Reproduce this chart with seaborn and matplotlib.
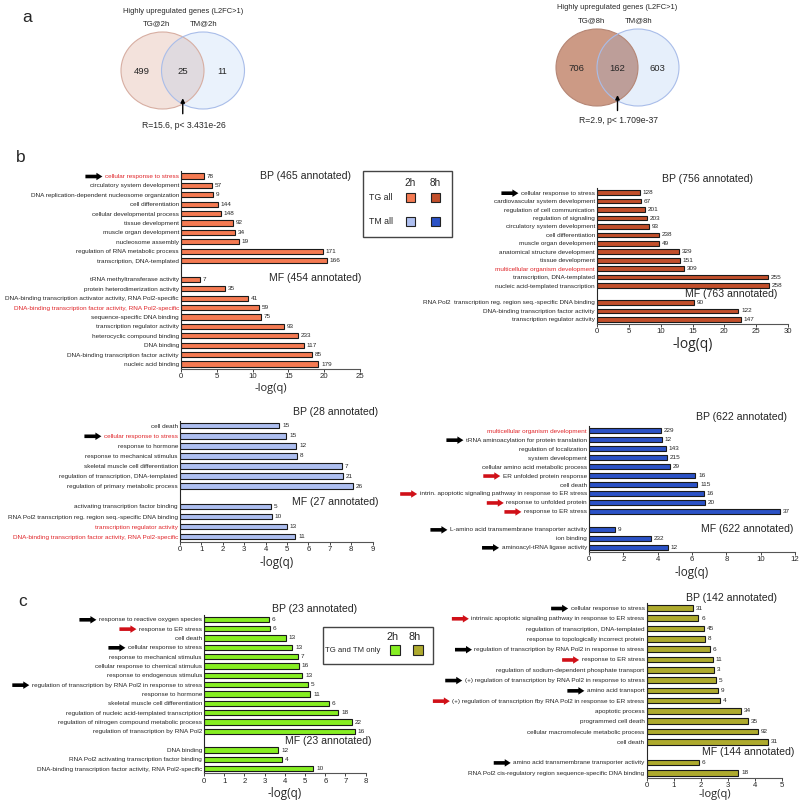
import numpy as np
import pandas as pd
import matplotlib
matplotlib.use("Agg")
import matplotlib.pyplot as plt
from matplotlib.patches import Ellipse, Rectangle, FancyArrow
import seaborn as sns

W, H = 800, 802

# ---------------- data ----------------
venn2h_counts = [499, 25, 11]
venn2h_sets = ["TG@2h", "TM@2h"]
venn2h_stat = "R=15.6, p< 3.431e-26"
venn8h_counts = [706, 162, 603]
venn8h_sets = ["TG@8h", "TM@8h"]
venn8h_stat = "R=2.9, p< 1.709e-37"

# TG all, 2h
tg2h_bp_terms = ["cellular response to stress", "circulatory system development",
                 "DNA replication-dependent nucleosome organization", "cell differentiation",
                 "cellular developmental process", "tissue development", "muscle organ development",
                 "nucleosome assembly", "regulation of RNA metabolic process", "transcription, DNA-templated"]
tg2h_bp_q = [3.2, 4.3, 4.5, 5.1, 5.6, 7.2, 7.5, 8.1, 19.8, 20.4]
tg2h_bp_n = [78, 57, 9, 144, 148, 92, 34, 19, 171, 166]
tg2h_mf_terms = ["tRNA methyltransferase activity", "protein heterodimerization activity",
                 "DNA-binding transcription activator activity, RNA Pol2-specific",
                 "DNA-binding transcription factor activity, RNA Pol2-specific",
                 "sequence-specific DNA binding", "transcription regulator activity",
                 "heterocyclic compound binding", "DNA binding",
                 "DNA-binding transcription factor activity", "nucleic acid binding"]
tg2h_mf_q = [2.7, 6.1, 9.3, 10.9, 11.2, 14.4, 16.4, 17.2, 18.3, 19.2]
tg2h_mf_n = [7, 35, 41, 59, 75, 93, 233, 117, 85, 179]

# TG all, 8h
tg8h_bp_terms = ["cellular response to stress", "cardiovascular system development",
                 "regulation of cell communication", "regulation of signaling",
                 "circulatory system development", "cell differentiation", "muscle organ development",
                 "anatomical structure development", "tissue development",
                 "multicellular organism development", "transcription, DNA-templated",
                 "nucleic acid-templated transcription"]
tg8h_bp_q = [6.7, 6.85, 7.6, 7.9, 8.2, 9.7, 9.8, 12.9, 13.0, 13.6, 26.8, 26.95]
tg8h_bp_n = [128, 67, 201, 203, 93, 238, 49, 329, 151, 309, 255, 258]
tg8h_mf_terms = ["RNA Pol2  transcription reg. region seq.-specific DNA binding",
                 "DNA-binding transcription factor activity", "transcription regulator activity"]
tg8h_mf_q = [15.3, 22.2, 22.6]
tg8h_mf_n = [90, 122, 147]

# TM all, 2h
tm2h_bp_terms = ["cell death", "cellular response to stress", "response to hormone",
                 "response to mechanical stimulus", "skeletal muscle cell differentiation",
                 "regulation of transcription, DNA-templated", "regulation of primary metabolic process"]
tm2h_bp_q = [4.64, 4.97, 5.44, 5.47, 7.58, 7.63, 8.08]
tm2h_bp_n = [15, 15, 12, 8, 7, 21, 26]
tm2h_mf_terms = ["activating transcription factor binding",
                 "RNA Pol2 transcription reg. region seq.-specific DNA binding",
                 "transcription regulator activity",
                 "DNA-binding transcription factor activity, RNA Pol2-specific"]
tm2h_mf_q = [4.24, 4.28, 4.98, 5.39]
tm2h_mf_n = [5, 10, 13, 11]

# TM all, 8h
tm8h_bp_terms = ["multicellular organism development", "tRNA aminoacylation for protein translation",
                 "regulation of localization", "system development",
                 "cellular amino acid metabolic process", "ER unfolded protein response", "cell death",
                 "intrin. apoptotic signaling pathway in response to ER stress",
                 "response to unfolded protein", "response to ER stress"]
tm8h_bp_q = [4.17, 4.23, 4.48, 4.56, 4.74, 6.19, 6.31, 6.68, 6.77, 11.1]
tm8h_bp_n = [229, 12, 143, 215, 29, 16, 115, 16, 20, 37]
tm8h_mf_terms = ["L-amino acid transmembrane transporter activity", "ion binding",
                 "aminoacyl-tRNA ligase activity"]
tm8h_mf_q = [1.5, 3.6, 4.6]
tm8h_mf_n = [9, 232, 12]

# TG and TM only, 2h
only2h_bp_terms = ["response to reactive oxygen species", "response to ER stress", "cell death",
                   "cellular response to stress", "response to mechanical stimulus",
                   "cellular response to chemical stimulus", "response to endogenous stimulus",
                   "regulation of transcription by RNA Pol2 in response to stress",
                   "response to hormone", "skeletal muscle cell differentiation",
                   "regulation of nucleic acid-templated transcription",
                   "regulation of nitrogen compound metabolic process",
                   "regulation of transcription by RNA Pol2"]
only2h_bp_q = [3.23, 3.27, 4.04, 4.37, 4.67, 4.69, 4.87, 5.16, 5.26, 6.19, 6.65, 7.34, 7.47]
only2h_bp_n = [6, 6, 13, 13, 7, 16, 13, 5, 11, 6, 18, 22, 16]
only2h_mf_terms = ["DNA binding", "RNA Pol2 activating transcription factor binding",
                   "DNA-binding transcription factor activity, RNA Pol2-specific"]
only2h_mf_q = [3.68, 3.88, 5.41]
only2h_mf_n = [12, 4, 10]

# TG and TM only, 8h
only8h_bp_terms = ["cellular response to stress",
                   "intrinsic apoptotic signaling pathway in response to ER stress",
                   "regulation of transcription, DNA-templated",
                   "response to topologically incorrect protein",
                   "regulation of transcription by RNA Pol2 in response to stress",
                   "response to ER stress", "regulation of sodium-dependent phosphate transport",
                   "(+) regulation of transcription by RNA Pol2 in response to stress",
                   "amino acid transport",
                   "(+) regulation of transcription fby RNA Pol2 in response to ER stress",
                   "apoptotic process", "programmed cell death",
                   "cellular macromolecule metabolic process", "cell death"]
only8h_bp_q = [1.70, 1.91, 2.11, 2.16, 2.34, 2.43, 2.47, 2.56, 2.63, 2.70, 3.49, 3.75, 4.10, 4.46]
only8h_bp_n = [31, 6, 45, 8, 6, 11, 3, 5, 9, 4, 34, 35, 92, 31]
only8h_mf_terms = ["amino acid transmembrane transporter activity",
                   "RNA Pol2 cis-regulatory region sequence-specific DNA binding"]
only8h_mf_q = [1.93, 3.38]
only8h_mf_n = [6, 18]

# ---------------- style ----------------
sns.set_style("ticks")
plt.rcParams["font.family"] = ["Liberation Sans", "DejaVu Sans"]
RED = "#e0262a"
C_TG2, C_TG8 = "#f47a52", "#c24f2b"
C_TM2, C_TM8 = "#aebff0", "#2b52c6"
C_ON2, C_ON8 = "#86ee22", "#aeaa2e"

fig = plt.figure(figsize=(W / 100, H / 100), dpi=100)
panels = []


def bar_panel(l, r, first, last, bp_terms, bp_q, bp_n, mf_terms, mf_q, mf_n, color,
              xmax, step, red_terms=(), black_arr=(), red_arr=(), xl_size=8, xl_pad=3):
    order = bp_terms + [" "] + mf_terms
    sp = (last - first) / (len(order) - 1)
    t, b = first - sp / 2, last + sp / 2
    ax = fig.add_axes([l / W, 1 - b / H, (r - l) / W, (b - t) / H])
    df = pd.DataFrame({"term": bp_terms + mf_terms, "q": bp_q + mf_q, "n": bp_n + mf_n})
    sns.barplot(data=df, x="q", y="term", order=order, color=color, saturation=1,
                width=0.55, edgecolor="#1a1a1a", linewidth=0.8, ax=ax)
    for _, row in df.iterrows():
        ax.annotate(str(row.n), (row.q, order.index(row.term)), xytext=(2, 0),
                    textcoords="offset points", va="center", ha="left", fontsize=4.6)
    ax.set_xlim(0, xmax)
    ax.set_xticks(np.arange(0, xmax + step / 2, step))
    ax.tick_params(axis="y", length=0, pad=1.5, labelsize=4.6)
    ax.tick_params(axis="x", length=2, pad=1, labelsize=5.6, width=0.6)
    ax.set_ylabel("")
    ax.set_xlabel("-log(q)", fontsize=xl_size, family=["Open Sans", "DejaVu Sans"], labelpad=xl_pad)
    for s in ["top", "right"]:
        ax.spines[s].set_visible(False)
    ax.spines["left"].set_linewidth(0.8)
    ax.spines["bottom"].set_linewidth(0.8)
    ax.spines["bottom"].set_color("#555555")
    for lbl in ax.get_yticklabels():
        if lbl.get_text() in red_terms:
            lbl.set_color(RED)
    panels.append((ax, list(black_arr), list(red_arr)))
    return ax


bar_panel(181, 360, 176, 364, tg2h_bp_terms, tg2h_bp_q, tg2h_bp_n, tg2h_mf_terms, tg2h_mf_q, tg2h_mf_n,
          C_TG2, 25, 5,
          red_terms=["cellular response to stress", "DNA-binding transcription factor activity, RNA Pol2-specific"],
          black_arr=["cellular response to stress"], xl_size=8, xl_pad=2)
bar_panel(597, 788, 192.7, 319.3, tg8h_bp_terms, tg8h_bp_q, tg8h_bp_n, tg8h_mf_terms, tg8h_mf_q, tg8h_mf_n,
          C_TG8, 30, 5, red_terms=["multicellular organism development"],
          black_arr=["cellular response to stress"], xl_size=10, xl_pad=2)
bar_panel(180, 372.7, 425.7, 536.7, tm2h_bp_terms, tm2h_bp_q, tm2h_bp_n, tm2h_mf_terms, tm2h_mf_q, tm2h_mf_n,
          C_TM2, 9, 1,
          red_terms=["cellular response to stress", "transcription regulator activity",
                     "DNA-binding transcription factor activity, RNA Pol2-specific"],
          black_arr=["cellular response to stress"], xl_size=8.5, xl_pad=2)
bar_panel(589, 795, 430.7, 547.3, tm8h_bp_terms, tm8h_bp_q, tm8h_bp_n, tm8h_mf_terms, tm8h_mf_q, tm8h_mf_n,
          C_TM8, 12, 2, red_terms=["multicellular organism development"],
          black_arr=["tRNA aminoacylation for protein translation",
                     "L-amino acid transmembrane transporter activity", "aminoacyl-tRNA ligase activity"],
          red_arr=["ER unfolded protein response",
                   "intrin. apoptotic signaling pathway in response to ER stress",
                   "response to unfolded protein", "response to ER stress"], xl_size=8.5, xl_pad=2)
bar_panel(204, 365.7, 619.3, 768.7, only2h_bp_terms, only2h_bp_q, only2h_bp_n, only2h_mf_terms, only2h_mf_q,
          only2h_mf_n, C_ON2, 8, 1,
          black_arr=["response to reactive oxygen species", "cellular response to stress",
                     "regulation of transcription by RNA Pol2 in response to stress"],
          red_arr=["response to ER stress"], xl_size=8.5, xl_pad=2)
bar_panel(646.7, 782.3, 608, 772.7, only8h_bp_terms, only8h_bp_q, only8h_bp_n, only8h_mf_terms, only8h_mf_q,
          only8h_mf_n, C_ON8, 5, 1,
          black_arr=["cellular response to stress",
                     "regulation of transcription by RNA Pol2 in response to stress",
                     "(+) regulation of transcription by RNA Pol2 in response to stress",
                     "amino acid transport", "amino acid transmembrane transporter activity"],
          red_arr=["intrinsic apoptotic signaling pathway in response to ER stress", "response to ER stress",
                   "(+) regulation of transcription fby RNA Pol2 in response to ER stress"],
          xl_size=8, xl_pad=0)

# overlay in pixel coordinates
ov = fig.add_axes([0, 0, 1, 1], facecolor="none")
ov.set_xlim(0, W)
ov.set_ylim(H, 0)
ov.axis("off")

# panel labels
for txt, x, y in [("a", 27, 18), ("b", 21, 157), ("c", 23, 602)]:
    ov.text(x, y, txt, fontsize=12.5, ha="center", va="center")

# Venn diagrams
def venn(cx_l, cx_r, cy, w, h, counts, sets, stat, fill_l, edge_l, fill_r, a_r, edge_r,
         title_y, set_y, stat_y, arrow_top):
    ov.add_patch(Ellipse((cx_l, cy), w, h, facecolor=fill_l, edgecolor="none"))
    ov.add_patch(Ellipse((cx_r, cy), w, h, facecolor=fill_r, alpha=a_r, edgecolor="none"))
    ov.add_patch(Ellipse((cx_l, cy), w, h, facecolor="none", edgecolor=edge_l, lw=0.8))
    ov.add_patch(Ellipse((cx_r, cy), w, h, facecolor="none", edgecolor=edge_r, lw=0.8))
    mid = (cx_l + cx_r) / 2
    ov.text(mid, title_y, "Highly upregulated genes (L2FC>1)", fontsize=5.4, ha="center", va="center")
    ov.text(cx_l - 6, set_y, sets[0], fontsize=5.6, ha="center", va="center")
    ov.text(cx_r + 1, set_y, sets[1], fontsize=5.6, ha="center", va="center")
    ov.text(cx_l - 21, cy + 1, str(counts[0]), fontsize=6.8, ha="center", va="center")
    ov.text(mid, cy + 1, str(counts[1]), fontsize=6.8, ha="center", va="center")
    ov.text(cx_r + 19, cy + 1, str(counts[2]), fontsize=6.8, ha="center", va="center")
    ov.annotate("", xy=(mid, arrow_top), xytext=(mid, arrow_top + 21),
                arrowprops=dict(arrowstyle="-|>", lw=1, color="black", mutation_scale=6))
    ov.text(mid + 1, stat_y, stat, fontsize=6.2, ha="center", va="center")


venn(162.5, 203, 70.5, 83, 77, venn2h_counts, venn2h_sets, venn2h_stat,
     "#f3e2dc", "#d7aea2", "#96bef0", 0.2, "#a9bde9", 11.3, 24, 126, 95.5)
venn(597, 638, 67.5, 82, 77, venn8h_counts, venn8h_sets, venn8h_stat,
     "#cc9a85", "#b58675", "#82afeb", 0.2, "#a9bde9", 7.3, 20.7, 120.7, 92.3)

# BP / MF headings
heads = [("BP (465 annotated)", 306, 176), ("MF (454 annotated)", 315, 278),
         ("BP (756 annotated)", 708, 179), ("MF (763 annotated)", 731, 294),
         ("BP (28 annotated)", 336, 412), ("MF (27 annotated)", 335, 502),
         ("BP (622 annotated)", 741, 417), ("MF (622 annotated)", 747, 529),
         ("BP (23 annotated)", 315, 609), ("MF (23 annotated)", 328, 741),
         ("BP (142 annotated)", 731, 598), ("MF (144 annotated)", 748, 752)]
for txt, x, y in heads:
    ov.text(x, y, txt, fontsize=7.6, ha="center", va="center")

# legend for b
ov.add_patch(Rectangle((363, 171), 89, 66, facecolor="white", edgecolor="#444444", lw=1))
ov.text(410, 183.5, "2h", fontsize=7.2, ha="center", va="center")
ov.text(435, 183.5, "8h", fontsize=7.2, ha="center", va="center")
ov.text(369, 197.5, "TG all", fontsize=6.3, ha="left", va="center")
ov.text(369, 222, "TM all", fontsize=6.3, ha="left", va="center")
for x, y, c in [(410, 197.5, C_TG2), (435, 197.5, C_TG8), (410, 221.5, C_TM2), (435, 221.5, C_TM8)]:
    ov.add_patch(Rectangle((x - 4.5, y - 4.5), 9, 9, facecolor=c, edgecolor="#222222", lw=0.8))

# legend for c
ov.add_patch(Rectangle((323, 626.5), 110, 37.5, facecolor="white", edgecolor="#444444", lw=1))
ov.text(393, 636.5, "2h", fontsize=7.8, ha="center", va="center")
ov.text(415, 636.5, "8h", fontsize=7.8, ha="center", va="center")
ov.text(325, 650, "TG and TM only", fontsize=5.6, ha="left", va="center")
for x, y, c in [(395, 649.5, C_ON2), (418, 650, C_ON8)]:
    ov.add_patch(Rectangle((x - 5, y - 5), 10, 10, facecolor=c, edgecolor="#222222", lw=0.8))

# arrows next to highlighted terms
fig.canvas.draw()
rend = fig.canvas.get_renderer()
inv = ov.transData.inverted()
for ax, black_arr, red_arr in panels:
    for lbl in ax.get_yticklabels():
        name = lbl.get_text()
        if name in black_arr or name in red_arr:
            bb = lbl.get_window_extent(rend)
            x0, y0 = inv.transform((bb.x0, (bb.y0 + bb.y1) / 2))
            col = "black" if name in black_arr else "#d01018"
            tip = x0 - 2.5
            ov.add_patch(FancyArrow(tip - 17, y0, 17, 0, width=3.6, head_width=7.5, head_length=6,
                                    length_includes_head=True, color=col, lw=0))

fig.savefig("out.png", dpi=100)
